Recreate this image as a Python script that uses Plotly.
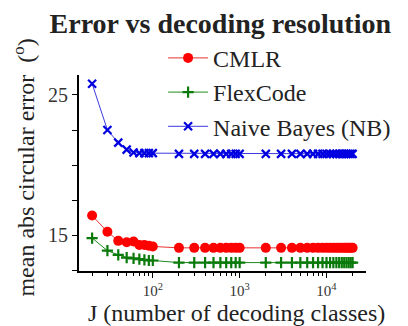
import plotly.graph_objects as go

# decoding resolution (number of classes) and mean absolute circular error in degrees
J = [20, 30, 40, 50, 60, 70, 80, 90, 100,
     200, 300, 400, 500, 600, 700, 800, 900, 1000,
     2000, 3000, 4000, 5000, 6000, 7000, 8000, 9000, 10000,
     11000, 12000, 13000, 14000, 15000, 16000, 17000, 18000, 19000, 20000]

cmlr = [16.4, 15.25, 14.6, 14.5, 14.55, 14.3, 14.3, 14.25, 14.2,
        14.1, 14.1, 14.1, 14.1, 14.1, 14.1, 14.1, 14.1, 14.1,
        14.1, 14.1, 14.1, 14.1, 14.1, 14.1, 14.1, 14.1, 14.1,
        14.1, 14.1, 14.1, 14.1, 14.1, 14.1, 14.1, 14.1, 14.1, 14.1]

flexcode = [14.8, 13.9, 13.6, 13.4, 13.35, 13.3, 13.25, 13.2, 13.2,
            13.05, 13.05, 13.05, 13.05, 13.05, 13.05, 13.05, 13.05, 13.05,
            13.05, 13.05, 13.05, 13.05, 13.05, 13.05, 13.05, 13.05, 13.05,
            13.05, 13.05, 13.05, 13.05, 13.05, 13.05, 13.05, 13.05, 13.05, 13.05]

naive_bayes = [25.8, 22.5, 21.6, 21.1, 20.9, 20.85, 20.85, 20.85, 20.85,
               20.8, 20.8, 20.8, 20.8, 20.8, 20.8, 20.8, 20.8, 20.8,
               20.8, 20.8, 20.8, 20.8, 20.8, 20.8, 20.8, 20.8, 20.8,
               20.8, 20.8, 20.8, 20.8, 20.8, 20.8, 20.8, 20.8, 20.8, 20.8]

x_ticks = [100, 1000, 10000]
x_tick_text = ["10<sup>2</sup>", "10<sup>3</sup>", "10<sup>4</sup>"]
x_minor_ticks = [20, 30, 40, 50, 60, 70, 80, 90,
                 200, 300, 400, 500, 600, 700, 800, 900,
                 2000, 3000, 4000, 5000, 6000, 7000, 8000, 9000, 20000]
y_ticks = [12.5, 15, 17.5, 20, 22.5, 25]
y_tick_text = ["", "15", "", "", "", "25"]

SERIF = "Liberation Serif"

fig = go.Figure()
fig.add_trace(go.Scatter(
    x=J, y=cmlr, name="CMLR", mode="lines+markers",
    line=dict(color="#e8302f", width=1),
    marker=dict(symbol="circle", size=10, color="#ff0000"),
))
fig.add_trace(go.Scatter(
    x=J, y=flexcode, name="FlexCode", mode="lines+markers",
    line=dict(color="#1f8a1f", width=1),
    marker=dict(symbol="cross-thin", size=8, color="#0a7a0a",
                line=dict(width=2.2, color="#0a7a0a")),
))
fig.add_trace(go.Scatter(
    x=J, y=naive_bayes, name="Naive Bayes (NB)", mode="lines+markers",
    line=dict(color="#3a3ae0", width=1),
    marker=dict(symbol="x-thin", size=8, color="#0000e0",
                line=dict(width=2.2, color="#0000e0")),
))

fig.update_layout(
    width=408, height=326,
    margin=dict(l=79, r=40, t=75, b=55),
    paper_bgcolor="white", plot_bgcolor="white",
    font=dict(family=SERIF, color="#222"),
    title=dict(text="<b>Error vs decoding resolution</b>",
               font=dict(family=SERIF, size=28, color="#222"),
               x=0.54, xref="container", xanchor="center",
               y=0.93, yref="container", yanchor="middle"),
    legend=dict(x=0.293, y=1.2, xanchor="left", yanchor="top",
                font=dict(family=SERIF, size=24, color="#222"),
                itemwidth=40,
                bgcolor="rgba(0,0,0,0)", tracegroupgap=0),
    showlegend=True,
)

fig.update_xaxes(
    type="log", range=[1.15, 4.455],
    showline=True, linecolor="black", linewidth=1.8,
    showgrid=False, zeroline=False,
    ticks="outside", ticklen=5, tickwidth=1.2, tickcolor="black",
    tickvals=x_ticks, ticktext=x_tick_text,
    tickfont=dict(family=SERIF, size=15, color="#333"),
    minor=dict(tickmode="array", tickvals=x_minor_ticks,
               ticks="outside", ticklen=3, tickwidth=1, tickcolor="black",
               showgrid=False),
)
fig.update_yaxes(
    range=[12.45, 26.42],
    showline=True, linecolor="black", linewidth=1.8,
    showgrid=False, zeroline=False,
    ticks="outside", ticklen=5, tickwidth=1.2, tickcolor="black",
    tickvals=y_ticks, ticktext=y_tick_text,
    tickfont=dict(family=SERIF, size=20, color="#333"),
)

# axis titles placed as annotations so they can sit slightly off-centre
fig.add_annotation(
    text="J (number of decoding classes)", xref="paper", yref="paper",
    x=0.55, y=-0.215, xanchor="center", yanchor="middle", showarrow=False,
    font=dict(family=SERIF, size=24, color="#222"),
)
fig.add_annotation(
    text="mean abs circular error  (<sup>o</sup>)", xref="paper", yref="paper",
    x=-0.19, y=0.53, xanchor="center", yanchor="middle", showarrow=False,
    textangle=-90, font=dict(family=SERIF, size=24, color="#222"),
)

fig.write_html("out.html")
